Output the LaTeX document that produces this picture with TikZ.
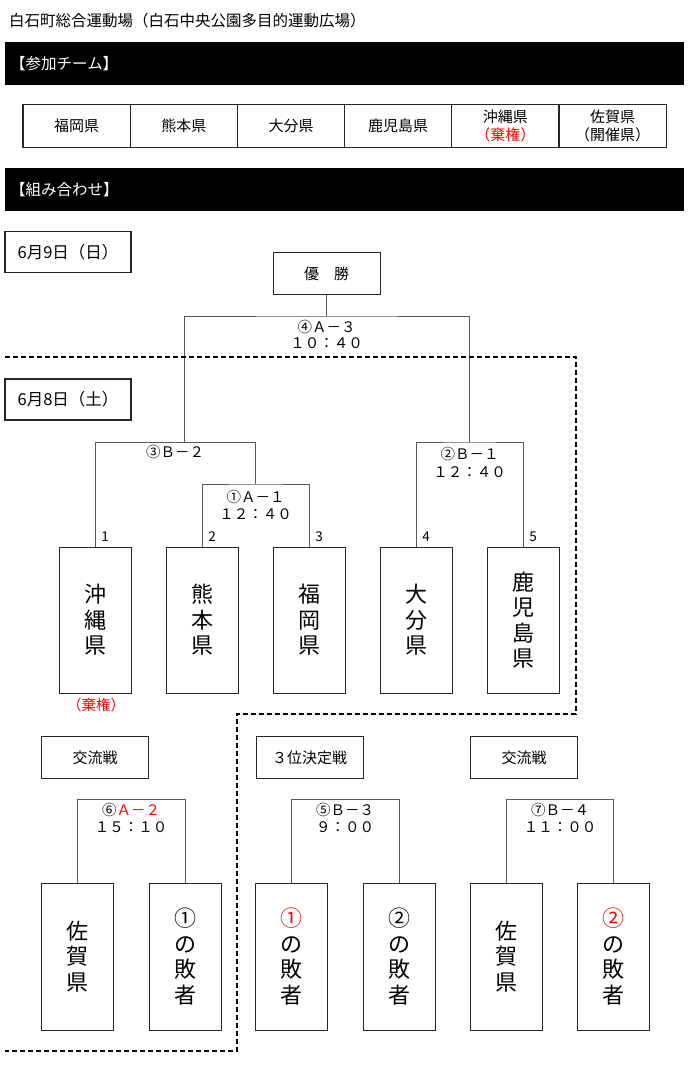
\documentclass[tikz,border=0pt]{standalone}
\usepackage{fontspec}
\setmainfont{Noto Sans CJK JP}
\begin{document}
\begin{tikzpicture}[x=1pt,y=-1pt,
  frame/.style={draw=black!85, line width=1pt, inner sep=0pt},
  cell/.style={draw=black!85, line width=1.3pt, minimum width=107.2pt, minimum height=43pt, inner sep=0pt, align=center, font=\fontsize{15}{18}\selectfont},
  lbl/.style={font=\fontsize{15.5}{18}\selectfont, inner sep=0pt},
  tim/.style={font=\fontsize{14.5}{17}\selectfont, inner sep=0pt},
  team/.style={frame, minimum width=72pt, minimum height=146pt, align=center, font=\fontsize{22}{25.5}\selectfont},
  brk/.style={draw=black!65, line width=0.9pt},
  num/.style={font=\fontsize{13.5}{15}\selectfont, inner sep=0pt},
  bar/.style={fill=black, minimum width=679pt, minimum height=43pt, anchor=north west, inner sep=0pt},
  sep/.style={draw=black, line width=1.3pt, dash pattern=on 5pt off 3pt},
  datebox/.style={frame, line width=1.3pt, minimum width=126pt, minimum height=41pt, font=\fontsize{16.5}{18}\selectfont},
  kbox/.style={frame, minimum width=107pt, minimum height=42pt, font=\fontsize{15}{18}\selectfont}
]
\useasboundingbox (0,0) rectangle (700,1073);

% title
\node[lbl, anchor=west] (title) at (9,21) {白石町総合運動場（白石中央公園多目的運動広場）};

% bars
\node[bar] (bar1) at (5,42) {};
\node[lbl, anchor=west, text=white] (bar1t) at (10,64) {【参加チーム】};
\node[bar] (bar2) at (5,168) {};
\node[lbl, anchor=west, text=white] (bar2t) at (10,190) {【組み合わせ】};

% team table
\node[cell] (c1) at (76.6,126) {福岡県};
\node[cell] (c2) at (183.8,126) {熊本県};
\node[cell] (c3) at (291.0,126) {大分県};
\node[cell] (c4) at (398.2,126) {鹿児島県};
\node[cell] (c5) at (505.4,126) {沖縄県\\{\color{red}（棄権）}};
\node[cell] (c6) at (612.6,126) {佐賀県\\（開催県）};

% dates
\node[datebox] (d9) at (68,252) {6月9日（日）};
\node[datebox] (d8) at (68,399.5) {6月8日（土）};

% winner
\node[frame, minimum width=107pt, minimum height=42pt, font=\fontsize{15}{18}\selectfont] (win) at (326.5,273.5) {優　勝};

% teams (day 1)
\node[team] (t1) at (95,620) {沖\\縄\\県};
\node[team] (t2) at (202,620) {熊\\本\\県};
\node[team] (t3) at (309,620) {福\\岡\\県};
\node[team] (t4) at (416,620) {大\\分\\県};
\node[team] (t5) at (523,620) {鹿\\児\\島\\県};
\node[tim, text=red] (kiken) at (96,705) {（棄権）};

% bracket coordinates
\coordinate (m3) at (184,442);
\coordinate (m1) at (255.5,484);
\coordinate (m2) at (469.5,442);
\coordinate (m4) at (326.5,316);

\draw[brk] (t1.north) |- (m1 |- m3) -- (m1);
\draw[brk] (t2.north) |- (m1) -| (t3.north);
\draw[brk] (t4.north) |- (m2) -| (t5.north);
\draw[brk] (m3) |- (m4) -| (m2);
\draw[brk] (win.south) -- (m4);

% bracket labels
\node[tim] (l4a) at (326.5,327) {④Ａ－３};
\node[tim] (l4b) at (326.5,343.5) {１０：４０};
\node[tim] (l3a) at (175,452) {③Ｂ－２};
\node[tim] (l1a) at (255.5,497) {①Ａ－１};
\node[tim] (l1b) at (255.5,514) {１２：４０};
\node[tim] (l2a) at (469.5,454) {②Ｂ－１};
\node[tim] (l2b) at (469.5,472) {１２：４０};

% numbers
\node[num] (n1) at (105,537) {1};
\node[num] (n2) at (212,537) {2};
\node[num] (n3) at (319,537) {3};
\node[num] (n4) at (426,537) {4};
\node[num] (n5) at (533,537) {5};

% bottom label boxes
\node[kbox] (k1) at (95,757.5) {交流戦};
\node[kbox] (k2) at (309.5,757.5) {３位決定戦};
\node[kbox] (k3) at (524,757.5) {交流戦};

% bottom teams
\node[team, minimum height=147pt] (u1) at (77.5,956.5) {佐\\賀\\県};
\node[team, minimum height=147pt] (u2) at (185,956.5) {①\\の\\敗\\者};
\node[team, minimum height=147pt] (u3) at (291.5,956.5) {{\color{red}①}\\の\\敗\\者};
\node[team, minimum height=147pt] (u4) at (399,956.5) {②\\の\\敗\\者};
\node[team, minimum height=147pt] (u5) at (506,956.5) {佐\\賀\\県};
\node[team, minimum height=147pt] (u6) at (613.5,956.5) {{\color{red}②}\\の\\敗\\者};

\coordinate (m6) at (131,799);
\coordinate (m5) at (345,799);
\coordinate (m7) at (560,799);
\draw[brk] (u1.north) |- (m6) -| (u2.north);
\draw[brk] (u3.north) |- (m5) -| (u4.north);
\draw[brk] (u5.north) |- (m7) -| (u6.north);

\node[tim] (l6a) at (131,809.5) {⑥{\color{red}Ａ－２}};
\node[tim] (l6b) at (131,827) {１５：１０};
\node[tim] (l5a) at (345,809.5) {⑤Ｂ－３};
\node[tim] (l5b) at (345,827) {９：００};
\node[tim] (l7a) at (560,809.5) {⑦Ｂ－４};
\node[tim] (l7b) at (560,827) {１１：００};

% dashed separator
\draw[sep] (5,357) -- (576,357) -- (576,714) -- (237,714) -- (237,1051) -- (5,1051);
\end{tikzpicture}
\end{document}
